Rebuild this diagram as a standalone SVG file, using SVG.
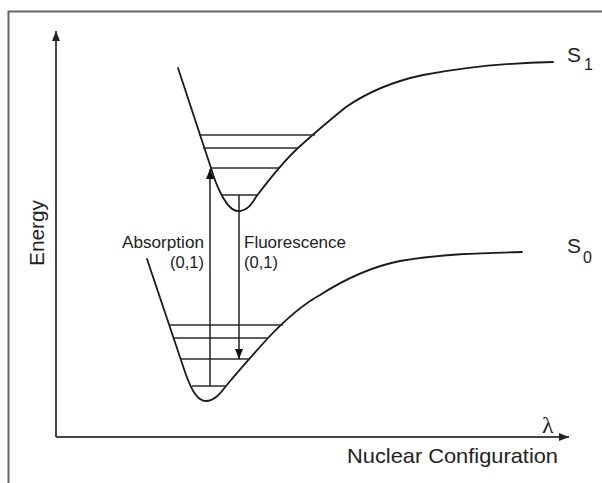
<svg xmlns="http://www.w3.org/2000/svg" width="602" height="483" viewBox="0 0 602 483">
<style>
.curve{fill:none;stroke:#1a1a1a;stroke-width:1.8;stroke-linecap:round}
.lvl{stroke:#2a2a2a;stroke-width:1.7}
.axis{stroke:#444;stroke-width:2;fill:none}
.arr{stroke:#222;stroke-width:1.5;fill:none}
.t{font-family:"Liberation Sans",Arial,sans-serif;fill:#222}
</style>
<defs>
<marker id="ah" viewBox="0 0 10 8" refX="10" refY="4" markerWidth="10" markerHeight="8" markerUnits="userSpaceOnUse" orient="auto">
<path d="M0,0 L10,4 L0,8 Z" fill="#111"/>
</marker>
<marker id="axh" viewBox="0 0 10 8" refX="10" refY="4" markerWidth="10" markerHeight="8" markerUnits="userSpaceOnUse" orient="auto">
<path d="M0,0 L10,4 L0,8 Z" fill="#222"/>
</marker>
</defs>
<rect width="602" height="483" fill="#fff"/>
<rect x="8.5" y="11.5" width="600" height="480" fill="none" stroke="#666" stroke-width="2"/>
<g id="axes">
<line class="axis" x1="56" y1="437" x2="56" y2="31" marker-end="url(#axh)"/>
<line class="axis" x1="56" y1="437" x2="569" y2="437" marker-end="url(#axh)"/>
<text class="t" transform="translate(44,266) rotate(-90)" font-size="21" textLength="66" lengthAdjust="spacingAndGlyphs">Energy</text>
<text class="t" x="347" y="463" font-size="21" textLength="211" lengthAdjust="spacingAndGlyphs">Nuclear Configuration</text>
<text x="542" y="433" font-family="'Liberation Serif','Times New Roman',serif" font-size="24" fill="#222">λ</text>
</g>
<g id="S1">
<path class="curve" d="M178,68 L211,168 C215,182 226,211 238,211 C248,211 252,203 256,197 C265,185 285,160 298,148 C310,137 325,124 346,107 C365,94 390,82 423,75 C460,68 500,63 553,62"/>
<line class="lvl" x1="199" y1="135" x2="315" y2="135"/>
<line class="lvl" x1="203" y1="148" x2="298" y2="148"/>
<line class="lvl" x1="210" y1="168" x2="279" y2="168"/>
<line class="lvl" x1="222" y1="195" x2="257" y2="195"/>
<text class="t" x="567" y="62" font-size="21">S</text>
<text class="t" x="584" y="70" font-size="16">1</text>
</g>
<g id="S0">
<path class="curve" d="M147,259 L185,372 C192,392 198,401 206,401 C214,401 220,394 226,386 C235,375 258,349 268,338 C285,320 300,306 320,295 C345,279 370,267 400,261 C440,254 480,253 522,252"/>
<line class="lvl" x1="170" y1="325" x2="283" y2="325"/>
<line class="lvl" x1="173" y1="338" x2="268" y2="338"/>
<line class="lvl" x1="180" y1="359" x2="250" y2="359"/>
<line class="lvl" x1="192" y1="386" x2="226" y2="386"/>
<text class="t" x="567" y="253" font-size="21">S</text>
<text class="t" x="583" y="263" font-size="16">0</text>
</g>
<g id="connectors">
<line class="arr" x1="210" y1="386" x2="210" y2="169" marker-end="url(#ah)"/>
<line class="arr" x1="239" y1="195" x2="239" y2="359" marker-end="url(#ah)"/>
</g>
<g id="labels">
<text class="t" x="122" y="248" font-size="16.5" textLength="82" lengthAdjust="spacingAndGlyphs">Absorption</text>
<text class="t" x="170" y="268" font-size="16.5" textLength="34" lengthAdjust="spacingAndGlyphs">(0,1)</text>
<text class="t" x="244" y="248" font-size="16.5" textLength="102" lengthAdjust="spacingAndGlyphs">Fluorescence</text>
<text class="t" x="244" y="268" font-size="16.5" textLength="34" lengthAdjust="spacingAndGlyphs">(0,1)</text>
</g>
</svg>
